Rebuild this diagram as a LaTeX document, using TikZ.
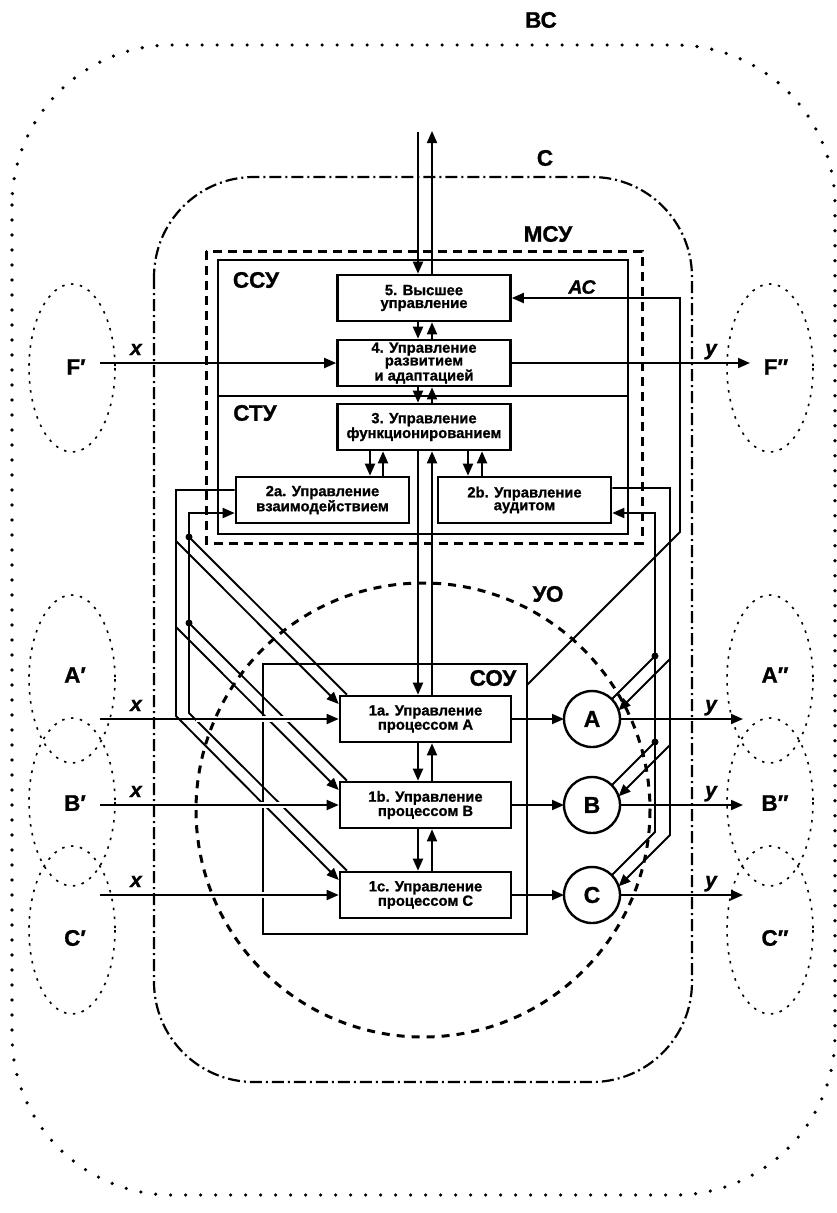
\documentclass[tikz,border=0pt]{standalone}
\usepackage{fontspec}
\setmainfont{Liberation Sans}[BoldFeatures={FakeBold=1}, BoldItalicFeatures={FakeBold=1}]
\usetikzlibrary{arrows.meta}
\begin{document}
\begin{tikzpicture}[x=1pt,y=-1pt,
  box/.style={draw, line width=2.6pt, minimum width=173pt, minimum height=46pt, inner sep=0pt, align=center, font=\fontsize{14.8}{12.8}\selectfont\bfseries},
  ln/.style={line width=1.9pt},
  arr/.style={line width=1.9pt, -{Triangle[length=12pt,width=10pt]}},
  big/.style={font=\fontsize{22.5}{22.5}\selectfont\bfseries, inner sep=0pt},
  var/.style={font=\fontsize{21}{21}\selectfont\bfseries\itshape, anchor=base, inner sep=0pt},
  circ/.style={draw, circle, line width=2.4pt, minimum size=56pt, inner sep=0pt, outer sep=0pt, font=\fontsize{23}{23}\selectfont\bfseries},
  ell/.style={line width=1.6pt, dash pattern=on 2.5pt off 6.5pt},
  jdot/.style={fill, circle, inner sep=0pt, minimum size=7pt},
  halo/.style={white, line width=6pt},
]
\useasboundingbox (0,0) rectangle (837,1213);

% frames
\draw[line width=3pt, dash pattern=on 9pt off 6pt] (206,251) rectangle (642,543);
\draw[ln] (218,260) rectangle (628,534);
\draw[ln] (218,396) -- (628,396);
\node[draw, line width=1.9pt, minimum width=264pt, minimum height=270pt, inner sep=0pt, outer sep=0pt] (sou) at (395,799) {};

% boxes
\node[box] (b5) at (424,298) {5. Высшее\\управление};
\node[box] (b4) at (424,363) {4. Управление\\развитием\\и адаптацией};
\node[box] (b3) at (424,427) {3. Управление\\функционированием};
\node[box] (b2a) at (322.5,500) {2a. Управление\\взаимодействием};
\node[box] (b2b) at (524.5,500) {2b. Управление\\аудитом};
\node[box, minimum width=171pt] (b1a) at (425.5,719) {1a. Управление\\процессом A};
\node[box, minimum width=171pt] (b1b) at (425.5,805) {1b. Управление\\процессом B};
\node[box, minimum width=171pt] (b1c) at (425.5,895) {1c. Управление\\процессом C};

\node[circ] (cA) at (592,719) {A};
\node[circ] (cB) at (592,805) {B};
\node[circ] (cC) at (592,895) {C};

% vertical links
\coordinate (vl) at (418,132);
\coordinate (vr) at (432,131);
\coordinate (al) at (370,0);
\coordinate (ar) at (383,0);
\coordinate (bl) at (468,0);
\coordinate (br) at (482,0);
\draw[arr] (vl) -- (vl |- b5.north);
\draw[arr] (vr |- b5.north) -- (vr);
\draw[arr] (b5.south -| vl) -- (b4.north -| vl);
\draw[arr] (b4.north -| vr) -- (b5.south -| vr);
\draw[arr] (b4.south -| vl) -- (b3.north -| vl);
\draw[arr] (b3.north -| vr) -- (b4.south -| vr);
\draw[arr] (b3.south -| vl) -- (b1a.north -| vl);
\draw[arr] (b1a.north -| vr) -- (b3.south -| vr);
\draw[arr] (b1a.south -| vl) -- (b1b.north -| vl);
\draw[arr] (b1b.north -| vr) -- (b1a.south -| vr);
\draw[arr] (b1b.south -| vl) -- (b1c.north -| vl);
\draw[arr] (b1c.north -| vr) -- (b1b.south -| vr);
\draw[arr] (b3.south -| al) -- (b2a.north -| al);
\draw[arr] (b2a.north -| ar) -- (b3.south -| ar);
\draw[arr] (b3.south -| bl) -- (b2b.north -| bl);
\draw[arr] (b2b.north -| br) -- (b3.south -| br);

% F lines
\coordinate (Fin) at (100,363);
\coordinate (Fout) at (750,363);
\draw[arr] (Fin) -- (b4.west);
\draw[arr] (b4.east) -- (Fout);

% AC
\coordinate (acB) at (680,532);
\coordinate (acT) at (680,298);
\coordinate (acS) at (527,685);
\draw[arr] (acS) -- (acB) -- (acT) -- (b5.east);

% left: 2a <-> 1a,1b,1c
\draw[arr] ([yshift=10pt]b2a.west) -- (176,490) -- (176,716) -- ([yshift=15pt]b1c.west);
\draw[arr] (176,541) -- ([yshift=15pt]b1a.west);
\draw[arr] (176,627) -- ([yshift=15pt]b1b.west);
\draw[arr] ([xshift=-78.5pt]b1c.north) -- (189,713) -- (189,513) -- ([yshift=-13pt]b2a.west);
\draw[ln] ([xshift=-78.5pt]b1a.north) -- (189,537);
\draw[ln] ([xshift=-78.5pt]b1b.north) -- (189,623);
\node[jdot] at (189,537) {};
\node[jdot] at (189,623) {};

% right: 2b <-> A,B,C
\draw[arr] ([yshift=12pt]b2b.east) -- (670,488) -- (670,835) -- (cC.18);
\draw[arr] (670,659) -- (cA.18);
\draw[arr] (670,745) -- (cB.18);
\draw[arr] (cC.45) -- (655,832) -- (655,513) -- ([yshift=-13pt]b2b.east);
\draw[ln] (cA.45) -- (655,656);
\draw[ln] (cB.45) -- (655,742);
\node[jdot] at (655,656) {};
\node[jdot] at (655,742) {};

% inputs / outputs
\draw[halo] (196,719) -- (330,719);
\draw[halo] (196,805) -- (330,805);
\draw[halo] (196,895) -- (330,895);
\coordinate (xa) at (100,719);
\coordinate (xb) at (100,805);
\coordinate (xc) at (100,895);
\coordinate (ya) at (743,719);
\coordinate (yb) at (743,805);
\coordinate (yc) at (743,895);
\draw[arr] (xa) -- (b1a.west);
\draw[arr] (xb) -- (b1b.west);
\draw[arr] (xc) -- (b1c.west);
\draw[arr] (b1a.east) -- (cA.west);
\draw[arr] (b1b.east) -- (cB.west);
\draw[arr] (b1c.east) -- (cC.west);
\draw[arr] (cA.east) -- (ya);
\draw[arr] (cB.east) -- (yb);
\draw[arr] (cC.east) -- (yc);

% variable labels
\node[var] at (136,355) {x};
\node[var] at (136,711) {x};
\node[var] at (136,797) {x};
\node[var] at (136,887) {x};
\node[var] at (711,355) {y};
\node[var] at (711,711) {y};
\node[var] at (711,797) {y};
\node[var] at (711,887) {y};
\node[font=\fontsize{19.5}{19.5}\selectfont\bfseries\itshape, inner sep=0pt] at (582,287) {АС};

% region outlines
\draw[line width=3.6pt, dash pattern=on 0pt off 15pt, line cap=round, rounded corners=160pt] (12,45) rectangle (835,1195);
\draw[line width=2.2pt, dash pattern=on 12pt off 4pt on 2pt off 4pt, rounded corners=100pt] (154,177) rectangle (692,1082);
\draw[line width=3pt, dash pattern=on 8pt off 7pt] (423,810) circle [radius=227];
\draw[ell] (72,368) ellipse [x radius=43, y radius=84];
\draw[ell] (770,368) ellipse [x radius=43, y radius=84];
\draw[ell] (72,679) ellipse [x radius=43, y radius=84];
\draw[ell] (72,802) ellipse [x radius=43, y radius=84];
\draw[ell] (72,930) ellipse [x radius=43, y radius=84];
\draw[ell] (770,679) ellipse [x radius=43, y radius=84];
\draw[ell] (770,802) ellipse [x radius=43, y radius=84];
\draw[ell] (770,930) ellipse [x radius=43, y radius=84];

% region labels
\node[big] at (541,20) {ВС};
\node[big] at (545,158) {С};
\node[big] at (548,234) {МСУ};
\node[big] at (256,280) {ССУ};
\node[big] at (255,413) {СТУ};
\node[big] at (548,594) {УО};
\node[big] at (493,678) {СОУ};
\node[big] at (76,367) {F′};
\node[big] at (776,367) {F″};
\node[big] at (75,675) {A′};
\node[big] at (75,803) {B′};
\node[big] at (75,938) {C′};
\node[big] at (775,675) {A″};
\node[big] at (775,803) {B″};
\node[big] at (775,938) {C″};
\end{tikzpicture}
\end{document}
